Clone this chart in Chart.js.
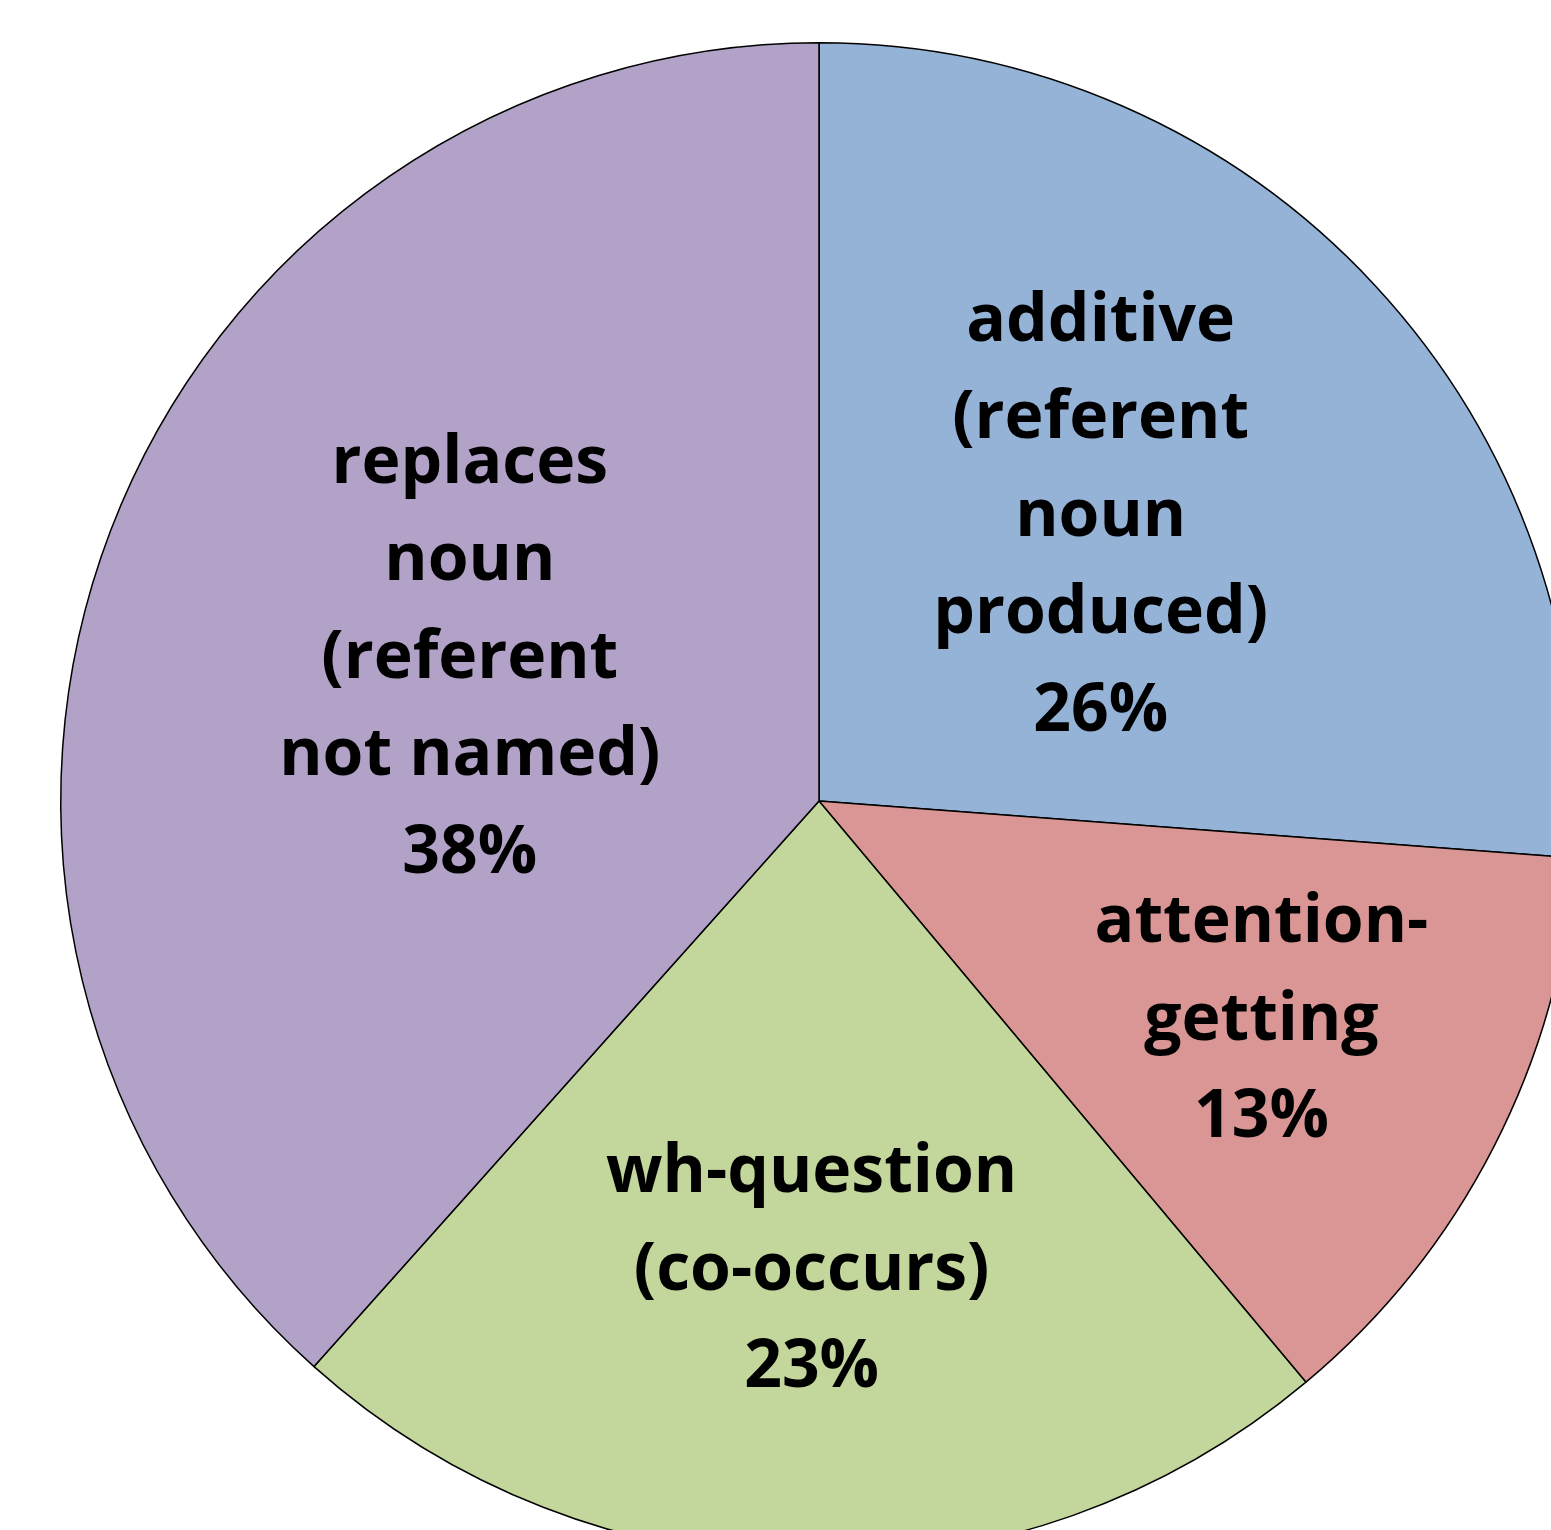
<!DOCTYPE html>
<html>
<head>
<meta charset="utf-8">
<script src="https://cdn.jsdelivr.net/npm/chart.js@4/dist/chart.umd.min.js"></script>
<style>
  html, body { margin: 0; padding: 0; background: #fff; overflow: hidden; }
  #wrap { position: absolute; left: 0; top: 0; width: 1638px; height: 1602px; }
</style>
</head>
<body>
<div id="wrap"><canvas id="grafico"></canvas></div>
<script>
// DADOS
const categorias = [
  'additive (referent noun produced)',
  'attention-getting',
  'wh-question (co-occurs)',
  'replaces noun (referent not named)'
];
const rotulos = [
  ['additive', '(referent', 'noun', 'produced)'],
  ['attention-', 'getting'],
  ['wh-question', '(co-occurs)'],
  ['replaces', 'noun', '(referent', 'not named)']
];
const valores = [26.2, 12.7, 22.7, 38.4];
const cores = ['#95b3d7', '#d99694', '#c3d69b', '#b2a2c7'];

// distancia do rotulo ao centro (fracao do raio) + ajuste fino em px
const distRotulo = [0.53, 0.65, 0.62, 0.50];
const ajusteRotulo = [[-13, -11], [4, -5], [0, 0], [5, -7]];

const total = valores.reduce((a, b) => a + b, 0);

const rotulosPlugin = {
  id: 'rotulos',
  afterDatasetsDraw(chart) {
    const ctx = chart.ctx;
    const meta = chart.getDatasetMeta(0);
    ctx.save();
    ctx.fillStyle = '#000';
    ctx.font = 'bold 66px "Open Sans"';
    ctx.textAlign = 'center';
    ctx.textBaseline = 'middle';
    const alturaLinha = 97.5;
    meta.data.forEach(function (arc, i) {
      const p = arc.getProps(['x', 'y', 'startAngle', 'endAngle', 'outerRadius'], true);
      const meio = (p.startAngle + p.endAngle) / 2;
      const r = p.outerRadius * distRotulo[i];
      const cx = p.x + Math.cos(meio) * r + ajusteRotulo[i][0];
      const cy = p.y + Math.sin(meio) * r + ajusteRotulo[i][1];
      const linhas = rotulos[i].concat([Math.round(valores[i] / total * 100) + '%']);
      const y0 = cy - (linhas.length - 1) * alturaLinha / 2;
      linhas.forEach(function (txt, k) {
        ctx.fillText(txt, cx, y0 + k * alturaLinha);
      });
    });
    ctx.restore();
  }
};

new Chart(document.getElementById('grafico'), {
  type: 'pie',
  data: {
    labels: categorias,
    datasets: [{
      data: valores,
      backgroundColor: cores,
      borderColor: '#000',
      borderWidth: 1.5
    }]
  },
  options: {
    responsive: true,
    maintainAspectRatio: false,
    animation: false,
    layout: { padding: 42 },
    plugins: {
      legend: { display: false },
      tooltip: { enabled: false }
    }
  },
  plugins: [rotulosPlugin]
});
</script>
</body>
</html>
